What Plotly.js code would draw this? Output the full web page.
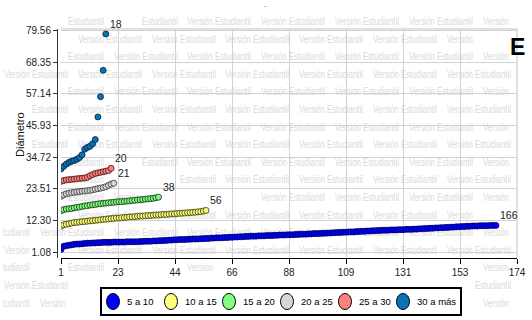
<!DOCTYPE html>
<html><head><meta charset="utf-8">
<script src="https://cdn.plot.ly/plotly-3.0.1.min.js"></script>
<style>
html,body{margin:0;padding:0;background:#fff;}
#wm{position:absolute;left:0;top:0;width:532px;height:320px;overflow:hidden;z-index:0;}
#wm span{position:absolute;white-space:nowrap;font-family:"Liberation Sans",Arial,sans-serif;font-size:11px;line-height:12px;color:#dadada;transform-origin:0 50%;}
#chart{position:absolute;left:0;top:0;width:532px;height:320px;z-index:1;}
</style></head><body>
<div id="wm"></div><div id="chart"></div>
<script>
// ---- data ----
const categories = ['5 a 10','10 a 15','15 a 20','20 a 25','25 a 30','30 a más'];
const d5a10 = [2.1,
 3.2,3.4,3.6,3.7,3.9,
 4.0,4.0,4.1,4.2,4.3,
 4.3,4.4,4.4,4.5,4.5,4.6,4.6,
 4.6,4.6,4.7,4.7,4.7,4.7,4.7,4.8,4.8,4.8,4.8,4.8,
 4.9,4.9,5.0,5.0,5.0,5.1,5.1,
 5.2,5.2,5.3,5.3,5.4,5.4,5.5,5.5,5.6,5.6,
 5.6,5.7,5.7,5.8,5.8,5.8,5.9,5.9,6.0,6.0,6.1,6.1,6.2,
 6.2,6.2,6.3,6.3,6.4,6.4,6.5,6.5,6.6,6.6,6.7,6.7,6.8,
 6.8,6.8,6.9,6.9,6.9,7.0,7.0,7.0,7.1,7.1,7.2,7.2,
 7.2,7.3,7.3,7.3,7.4,7.4,7.5,7.5,7.5,7.6,7.6,7.7,7.7,
 7.7,7.8,7.8,7.9,7.9,8.0,8.0,8.1,8.1,8.2,8.2,8.3,8.3,
 8.3,8.4,8.4,8.5,8.5,8.6,8.6,8.7,8.7,8.8,8.8,8.9,
 8.9,8.9,9.0,9.0,9.0,9.1,9.1,9.1,9.2,9.2,9.2,9.3,9.3,9.4,9.4,9.5,9.5,9.6,
 9.6,9.7,9.7,9.8,9.8,9.9,9.9,10.0,10.0,10.1,10.1,10.2,10.2,10.3,10.3,10.4,
 10.4,10.4,10.5,10.5,10.5,10.5,10.6,10.6,10.6];
const d10a15 = [10.3,10.8,11.0,11.2,11.4,11.6,11.7,11.8,11.9,12.0,
 12.1,12.2,12.3,12.4,12.5,12.6,12.7,12.8,12.9,13.0,
 13.1,13.2,13.2,13.3,13.4,13.5,13.6,13.6,13.7,13.8,
 13.9,13.9,14.0,14.1,14.1,14.2,14.3,14.3,14.4,14.5,
 14.5,14.6,14.7,14.7,14.8,14.9,14.9,15.0,15.1,15.1,
 15.2,15.3,15.4,15.5,15.7,15.9];
const d15a20 = [15.8,16.2,16.4,16.5,16.6,16.8,17.0,17.1,17.3,17.5,
 17.6,17.8,17.9,18.0,18.2,18.3,18.4,18.5,18.6,18.7,
 18.8,18.9,19.0,19.0,19.1,19.2,19.3,19.4,19.5,19.6,
 19.7,19.8,19.9,20.0,20.1,20.2,20.4,20.6];
const d20a25 = [20.9,21.4,21.8,22.0,22.2,22.3,22.5,22.6,22.7,22.8,
 22.9,23.0,23.2,23.4,23.6,23.8,24.0,24.3,24.8,25.2,25.5];
const d25a30 = [26.2,26.5,26.7,26.8,26.9,27.0,27.1,27.2,27.3,27.4,
 27.6,28.2,28.6,29.0,29.2,29.4,29.6,29.8,30.0,30.8];
const d30mas = [30.6,31.5,32.3,32.9,33.3,33.6,34.0,34.6,35.6,37.6,
 38.2,38.6,39.5,41.0,49.0,56.2,65.5,78.4];
const xTickVals = [1,22.625,44.25,65.875,87.5,109.125,130.75,152.375,174];
const xTickText = ['1','23','44','66','88','109','131','153','174'];
const yTickVals = [1.08,12.30,23.51,34.72,45.93,57.14,68.35,79.56];
const yTickText = ['1.08','12.30','23.51','34.72','45.93','57.14','68.35','79.56'];
const yTitle = 'Diámetro';
const panelLetter = 'E';
const wmWords = ['Versión', 'Estudiantil'];
const wmTail = 'tudiantil';

// ---- styles ----
const series = [d5a10,d10a15,d15a20,d20a25,d25a30,d30mas];
const fills = ['#0000ff','#ffff80','#80ff80','#d6d6d6','#ff8080','#0a72b5'];
const edges = ['#000060','#333300','#103010','#333333','#401010','#00203a'];
const FONT = '"Liberation Sans",Arial,sans-serif';

// pixel geometry of plotting region
const PL = 57, PR = 517, PT = 29, PB = 258;
const px = x => (x - PL) / (PR - PL);
const py = y => (PB - y) / (PB - PT);

const traces = series.map((vals, i) => ({
  type: 'scatter', mode: 'markers', name: categories[i],
  x: vals.map((v, j) => j + 1), y: vals,
  marker: {size: 6, color: fills[i], line: {color: edges[i], width: 0.8}},
  hoverinfo: 'skip'
}));

const annotations = series.map(vals => ({
  xref: 'x', yref: 'y', x: vals.length, y: vals[vals.length - 1],
  text: String(vals.length), showarrow: false, xanchor: 'left', yanchor: 'bottom',
  xshift: 2, yshift: 2, font: {family: FONT, size: 10.5, color: '#222'}
}));
annotations.push({xref: 'paper', yref: 'paper', x: px(517), y: py(47), text: '<b>' + panelLetter + '</b>',
  showarrow: false, xanchor: 'center', yanchor: 'middle',
  font: {family: FONT, size: 23, color: '#000'}});
annotations.push({xref: 'paper', yref: 'paper', x: px(20), y: py(135), text: yTitle, textangle: -90,
  showarrow: false, xanchor: 'center', yanchor: 'middle',
  font: {family: FONT, size: 11, color: '#111'}});

const shapes = [
  {type: 'line', xref: 'paper', yref: 'paper', x0: px(61), x1: 1, y0: 1, y1: 1, line: {color: '#c4c4c4', width: 1}},
  {type: 'line', xref: 'paper', yref: 'paper', x0: 1, x1: 1, y0: 0, y1: 1, line: {color: '#c4c4c4', width: 1}},
  {type: 'rect', xref: 'paper', yref: 'paper', x0: px(101), x1: px(461), y0: py(315), y1: py(288),
   line: {color: '#000', width: 2}, fillcolor: '#fff', layer: 'above'}
];
const legCx0 = 113, legStep = 58, legCy = 301.5;
categories.forEach((c, i) => {
  const cx = legCx0 + legStep * i;
  shapes.push({type: 'circle', xref: 'paper', yref: 'paper',
    x0: px(cx - 6.5), x1: px(cx + 6.5), y0: py(legCy + 8), y1: py(legCy - 8),
    fillcolor: fills[i], line: {color: '#000', width: 1}, layer: 'above'});
  annotations.push({xref: 'paper', yref: 'paper', x: px(cx + 12), y: py(legCy), text: c,
    showarrow: false, xanchor: 'left', yanchor: 'middle',
    font: {family: FONT, size: 9.5, color: '#000'}});
});

const layout = {
  width: 532, height: 320,
  margin: {l: PL, r: 532 - PR, t: PT, b: 320 - PB, pad: 0},
  paper_bgcolor: 'rgba(0,0,0,0)', plot_bgcolor: 'rgba(0,0,0,0)',
  showlegend: false,
  font: {family: FONT, size: 10, color: '#222'},
  title: {text: '-', x: 265 / 532, xanchor: 'center', y: 1 - 6 / 320, yanchor: 'middle',
    font: {family: FONT, size: 9, color: '#999'}},
  xaxis: {domain: [px(61), 1], range: [1, 174], tickvals: xTickVals, ticktext: xTickText,
    showgrid: true, gridcolor: '#d2d2d2', gridwidth: 1, zeroline: false,
    showline: true, linecolor: '#000', linewidth: 1,
    ticks: 'outside', ticklen: 5, tickcolor: '#000', tickwidth: 1,
    tickfont: {family: FONT, size: 10, color: '#222'}},
  yaxis: {anchor: 'free', position: 0, range: [-0.94, 80.15], tickvals: yTickVals, ticktext: yTickText,
    showgrid: true, gridcolor: '#d2d2d2', gridwidth: 1, zeroline: false,
    showline: true, linecolor: '#333', linewidth: 1,
    ticks: 'outside', ticklen: 4, tickcolor: '#333', tickwidth: 1,
    tickfont: {family: FONT, size: 10, color: '#222'}},
  shapes: shapes,
  annotations: annotations
};

Plotly.newPlot('chart', traces, layout, {staticPlot: true, displayModeBar: false}).then(() => {
  // faint "Versión Estudiantil" watermark behind the chart, word by word, skipping chart texts
  const boxes = [];
  document.querySelectorAll('#chart svg text').forEach(t => {
    const b = t.getBoundingClientRect();
    if (b.width > 0 && b.width < 200 && t.textContent.trim()) boxes.push({l: b.left, r: b.right, t: b.top, b: b.bottom});
  });
  boxes.push({l: 100, r: 462, t: 287, b: 316});
  const wm = document.getElementById('wm');
  const measure = txt => { const p = document.createElement('span'); p.textContent = txt; wm.appendChild(p);
    const w = p.getBoundingClientRect().width; wm.removeChild(p); return w; };
  const fullW = measure(wmWords.join(' '));
  const sc = 64 / fullW;
  const wV = measure(wmWords[0]) * sc, wE = measure(wmWords[1]) * sc, wT = measure(wmTail) * sc;
  const hit = (l, r, t, b) => boxes.some(q => l < q.r && r > q.l && t < q.b && b > q.t);
  const place = (txt, x, yc, w) => {
    const l = x, r = x + w, t = yc - 5, b = yc + 5;
    if (l < 0 || r > 532 || t < 0 || b > 320) return;
    if (hit(l, r, t, b)) return;
    const s = document.createElement('span');
    s.textContent = txt;
    s.style.left = x + 'px'; s.style.top = (yc - 6) + 'px';
    s.style.transform = 'scaleX(' + sc + ')';
    wm.appendChild(s);
  };
  for (let r = 0; r < 19; r++) {
    const yc = 21 + 17.6 * r;
    const x0 = (r % 2 === 0) ? -34 : 4;
    for (let k = 0; k < 9; k++) {
      const x = x0 + 73.8 * k;
      if (x < 0) {
        place(wmTail, x + 64 - wT, yc, wT);
      } else {
        place(wmWords[0], x, yc, wV);
        place(wmWords[1], x + 64 - wE, yc, wE);
      }
    }
  }
});
</script>
</body></html>
